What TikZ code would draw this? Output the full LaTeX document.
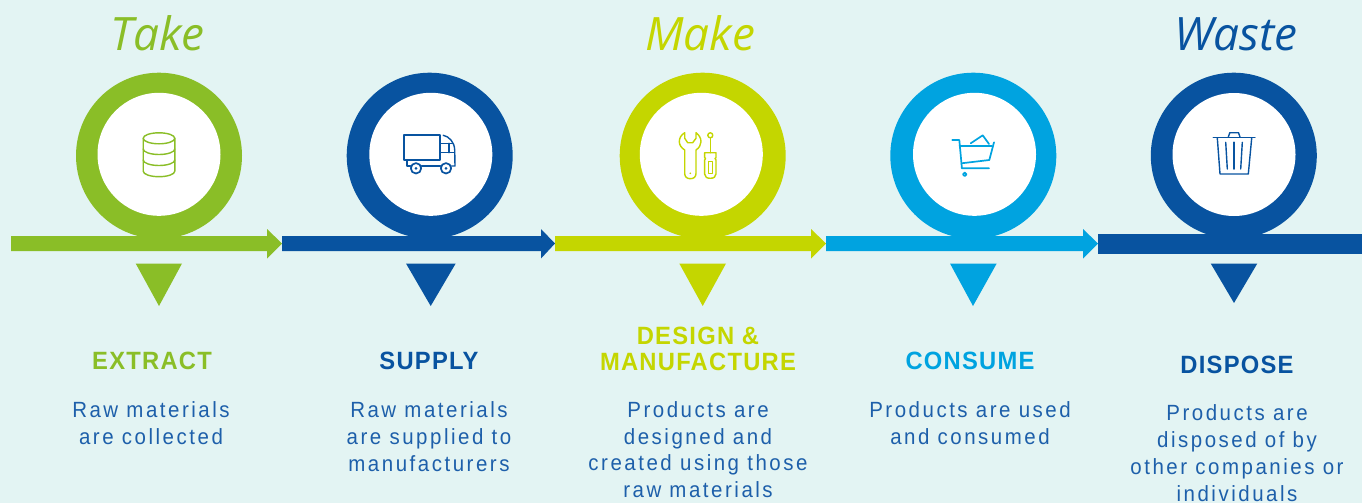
\documentclass[tikz,border=0pt]{standalone}
\usepackage{fontspec}
\setmainfont{Liberation Sans}
\newfontfamily\bodyfont[FakeStretch=0.93,LetterSpace=11.5]{Liberation Sans}
\newfontfamily\headfont[FakeStretch=0.95,LetterSpace=5]{Liberation Sans}
\newfontfamily\titlefont{Open Sans}
\definecolor{bgc}{HTML}{E3F4F3}
\definecolor{cgreen}{HTML}{8ABE27}
\definecolor{cblue}{HTML}{0853A0}
\definecolor{clime}{HTML}{C4D600}
\definecolor{ccyan}{HTML}{00A3E0}
\definecolor{ctext}{HTML}{1D5FAA}
\tikzset{
  x=1pt,y=-1pt,
  ringout/.style={circle,fill=#1,minimum size=166pt,inner sep=0pt},
  ringin/.style={circle,fill=white,minimum size=123pt,inner sep=0pt},
  titletext/.style={anchor=base,text=#1,inner sep=0pt,font=\titlefont\itshape\fontsize{46}{50}\selectfont},
  headtext/.style={anchor=base,text=#1,inner sep=0pt,align=center,font=\headfont\bfseries\fontsize{25}{26}\selectfont},
  bodytext/.style={anchor=base,text=ctext,inner sep=0pt,align=center,font=\bodyfont\fontsize{22}{26.7}\selectfont},
  icon/.style={draw=#1,line width=1.4pt,line join=round,line cap=round,fill=none},
}
% \arrowband{colour}{x start}{x head}{x tip}
\newcommand{\arrowband}[4]{\fill[#1] (#2,236) -- (#3,236) -- (#3,229) -- (#4,243.5) -- (#3,258.5) -- (#3,251) -- (#2,251) -- cycle;}
% \pointer{colour}{x left}{x tip}{x right}{y bottom}
\newcommand{\pointer}[5]{\fill[#1] (#2,263.5) -- (#4,263.5) -- (#3,#5) -- cycle;}
\begin{document}
\begin{tikzpicture}
\useasboundingbox (0,0) rectangle (1362,503);
\fill[bgc] (0,0) rectangle (1362,503);
% bands
\arrowband{cgreen}{11}{267}{282}
\arrowband{cblue}{282}{541}{555}
\arrowband{clime}{555}{811}{826}
\arrowband{ccyan}{826}{1083}{1098}
\fill[cblue] (1098,234) rectangle (1362,254);
% rings
\node[ringout=cgreen] (r1) at (159,155.7) {};
\node[ringin] (i1) at (159,154.3) {};
\node[ringout=cblue] (r2) at (429.7,155.7) {};
\node[ringin] (i2) at (430.8,154.3) {};
\node[ringout=clime] (r3) at (702.7,155.7) {};
\node[ringin] (i3) at (701.3,154.3) {};
\node[ringout=ccyan] (r4) at (973.3,155.7) {};
\node[ringin] (i4) at (974.5,154.3) {};
\node[ringout=cblue] (r5) at (1233.8,155.7) {};
\node[ringin] (i5) at (1234,154.5) {};
% pointers
\pointer{cgreen}{135.7}{159}{182}{306}
\pointer{cblue}{406}{430.7}{455.7}{306}
\pointer{clime}{679.3}{702.7}{726}{306}
\pointer{ccyan}{950}{973}{996.7}{306}
\pointer{cblue}{1210.7}{1234}{1257.3}{303}
% titles
\node[titletext=cgreen] (t1) at (157.5,51) {Take};
\node[titletext=clime] (t2) at (700,51) {Make};
\node[titletext=cblue] (t3) at (1236,51) {Waste};
% icon: database
\begin{scope}[icon=cgreen]
  \draw (159,138.3) ellipse [x radius=15.8,y radius=5.5];
  \draw (143.2,138.3) -- (143.2,171.2) arc[start angle=180,end angle=360,x radius=15.8,y radius=-5.5] -- (174.8,138.3);
  \draw (143.2,149) arc[start angle=180,end angle=360,x radius=15.8,y radius=-5.5];
  \draw (143.2,160) arc[start angle=180,end angle=360,x radius=15.8,y radius=-5.5];
\end{scope}
% icon: truck
\begin{scope}[icon=cblue]
  \draw[line width=1.7pt] (404.3,135.3) rectangle (440,160);
  \draw (440,143.3) -- (453,143.3) (440,152.7) -- (454.5,152.7) (449,143.3) -- (449,152.7);
  \draw (443.3,135.3) .. controls (449,136.5) and (454.5,142) .. (454.7,150) -- (455,166) -- (451.5,166);
  \draw[line width=1.7pt] (406.8,160) -- (406.8,166) -- (410.5,166) (421.5,166) -- (440.5,166);
  \draw[line width=1.7pt] (416,168.3) circle [radius=5.2] (446,168.3) circle [radius=5.2];
  \fill[cblue] (416,168.3) circle [radius=1.5] (446,168.3) circle [radius=1.5];
\end{scope}
% icon: wrench and screwdriver
\begin{scope}[icon=clime]
  \draw (684.7,132.7) .. controls (681,135) and (679.3,138) .. (679.3,141.7) .. controls (679.3,145) and (681.5,148) .. (684.7,150) -- (684.7,173.3)
    .. controls (684.7,177) and (687,178.7) .. (690.3,178.7) .. controls (693.7,178.7) and (696,177) .. (696,173.3) -- (696,150)
    .. controls (699,148) and (701,145) .. (701,141.7) .. controls (701,138) and (699,135) .. (696,132.7) -- (696,138.3)
    -- (692.7,142.7) -- (687.7,142.7) -- (684.7,138.3) -- cycle;
  \fill[clime] (690.3,173.3) circle [radius=.9];
  \draw (710.3,135.3) circle [radius=2.5];
  \draw (710.3,137.8) -- (710.3,152.7);
  \draw (704.6,152.7) -- (716,152.7) -- (716,157.5) -- (715,158.5) -- (716,160) -- (716,174) .. controls (716,177) and (713.5,178.3) .. (710.3,178.3) .. controls (707,178.3) and (704.6,177) .. (704.6,174) -- (704.6,160) -- (705.6,158.5) -- (704.6,157.5) -- cycle;
  \draw (708.4,161.7) rectangle (712.2,173.3);
\end{scope}
% icon: cart
\begin{scope}[icon=ccyan,line width=1.7pt]
  \draw (952.3,140) -- (959.3,140) -- (961.7,166) -- (961.7,168.3) -- (989,168.3);
  \draw (959.6,146) -- (991.7,146);
  \draw (994,142.3) -- (989.3,160) -- (961.5,163.3);
  \draw (970.7,143.3) -- (982.7,135.3) -- (989,144);
  \draw (964.7,174.3) circle [radius=1.8];
\end{scope}
% icon: bin
\begin{scope}[icon=cblue]
  \draw (1213.3,137.7) -- (1255,137.7);
  \draw (1228.3,137) -- (1229.8,132.7) -- (1238.5,132.7) -- (1240,137);
  \draw (1217.3,138) -- (1220,174) -- (1248.3,174) -- (1251.7,138);
  \draw (1225.7,142.3) -- (1227.3,169);
  \draw[line width=1.8pt] (1233.7,142.3) -- (1233.7,169);
  \draw (1242.3,142.3) -- (1240.7,169);
\end{scope}
% headings
\node[headtext=cgreen] (h1) at (152,369.5) {EXTRACT};
\node[headtext=cblue] (h2) at (429,369.5) {SUPPLY};
\node[headtext=clime] (h3a) at (698,344.5) {DESIGN \&};
\node[headtext=clime] (h3b) at (698,370.5) {MANUFACTURE};
\node[headtext=ccyan] (h4) at (970,369.5) {CONSUME};
\node[headtext=cblue] (h5) at (1237,373.5) {DISPOSE};
% body (anchor base = last line)
\node[bodytext] (b1) at (151,444) {Raw materials\\are collected};
\node[bodytext] (b2) at (429,471) {Raw materials\\are supplied to\\manufacturers};
\node[bodytext] (b3) at (698,497.5) {Products are\\designed and\\created using those\\raw materials};
\node[bodytext] (b4) at (970,444) {Products are used\\and consumed};
\node[bodytext] (b5) at (1237,501) {Products are\\disposed of by\\other companies or\\individuals};
\end{tikzpicture}
\end{document}
